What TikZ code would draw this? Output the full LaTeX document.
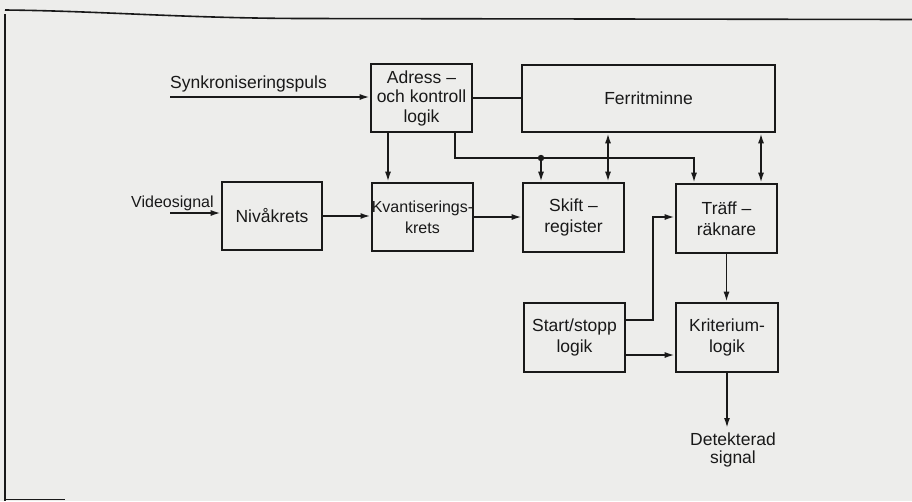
\documentclass[tikz,border=0pt]{standalone}
\usepackage{fontspec}
\setmainfont{Liberation Sans}
\usetikzlibrary{arrows.meta,calc}
\definecolor{paper}{RGB}{237,237,235}
\definecolor{ink}{RGB}{25,25,25}
\tikzset{
  blk/.style={draw=ink, line width=2.6pt, rectangle, inner sep=0pt, align=center,
    font=\fontsize{17.5}{21}\selectfont, text=ink},
  conn/.style={draw=ink, line width=1.8pt},
  arr/.style={conn, -{Latex[length=10pt,width=6pt]}},
  darr/.style={conn, {Latex[length=10pt,width=6pt]}-{Latex[length=10pt,width=6pt]}},
  lbl/.style={inner sep=0pt, font=\fontsize{17.5}{18}\selectfont, text=ink, align=center},
  frame/.style={draw=ink, line width=1.6pt}
}
\begin{document}
\begin{tikzpicture}[x=1pt,y=-1pt]
\fill[paper] (0,0) rectangle (912,501);
\useasboundingbox (0,0) rectangle (912,501);
% frame
\draw[frame] (5,10) .. controls (100,11) and (180,18) .. (300,18.5) -- (912,19.5);
\draw[frame] (5,14) -- (5,501);
\draw[frame] (5,499.5) -- (65,499.5);
% blocks
\node[blk, minimum width=101pt, minimum height=68pt, font=\fontsize{17.5}{19.5}\selectfont] (adr) at (421.5,98) {Adress –\\och kontroll\\logik};
\node[blk, minimum width=253pt, minimum height=67pt] (ferr) at (648.5,98.5) {Ferritminne};
\node[blk, minimum width=100pt, minimum height=68pt] (niva) at (272,216) {Nivåkrets};
\node[blk, minimum width=99pt, minimum height=68pt, font=\fontsize{16}{21}\selectfont] (kvant) at (422.5,217) {Kvantiserings-\\krets};
\node[blk, minimum width=101pt, minimum height=69pt] (skift) at (573.5,217.5) {Skift –\\register};
\node[blk, minimum width=101pt, minimum height=69pt] (traff) at (726.5,218.5) {Träff –\\räknare};
\node[blk, minimum width=101pt, minimum height=69pt] (start) at (574.5,337.5) {Start/stopp\\logik};
\node[blk, minimum width=102pt, minimum height=69pt] (krit) at (727,337.5) {Kriterium-\\logik};
% labels
\node[lbl, anchor=base west] (synklbl) at (170,88) {Synkroniseringspuls};
\node[lbl, anchor=base west, font=\fontsize{16}{17}\selectfont] (videolbl) at (131,207) {Videosignal};
\node[lbl, anchor=north, font=\fontsize{17.5}{18}\selectfont] (det) at (733,433) {Detekterad\\signal};
% free ends and branch points
\coordinate (synk) at (170,97);
\coordinate (video) at (170,213);
\coordinate (j) at (541,158);
\coordinate (a1) at ($(adr.south)+(-33.5,0)$);
\coordinate (a2) at ($(adr.south)+(33.5,0)$);
\coordinate (t1) at ($(traff.north)+(-32.5,0)$);
\coordinate (f1) at ($(ferr.south)+(-40.5,0)$);
\coordinate (f2) at ($(ferr.south)+(112.5,0)$);
\coordinate (s1) at ($(start.east)+(0,-17.5)$);
\coordinate (s2) at ($(start.east)+(0,17.5)$);
\coordinate (s1b) at ($(s1)+(27,0)$);
\coordinate (t2) at ($(traff.west)+(0,-1.5)$);
% connectors
\draw[arr] (synk) -- (synk -| adr.west);
\draw[conn] (adr.east) -- (adr.east -| ferr.west);
\draw[arr] (a1) -- (a1 |- kvant.north);
\draw[arr] (a2) |- (j) -| (t1);
\fill[ink] (j) circle (3.2pt);
\draw[arr] (j) -- (j |- skift.north);
\draw[darr] (f1) -- (f1 |- skift.north);
\draw[darr] (f2) -- (f2 |- traff.north);
\draw[arr] (video) -- (video -| niva.west);
\draw[arr] (niva.east) -- (niva.east -| kvant.west);
\draw[arr] (kvant.east) -- (kvant.east -| skift.west);
\draw[arr] (s1) -- (s1b) |- (t2);
\draw[arr] (s2) -- (s2 -| krit.west);
\draw[arr] (traff.south) -- (traff.south |- krit.north);
\draw[arr, shorten >=5pt] (krit.south) -- (krit.south |- det.north);
\end{tikzpicture}
\end{document}
